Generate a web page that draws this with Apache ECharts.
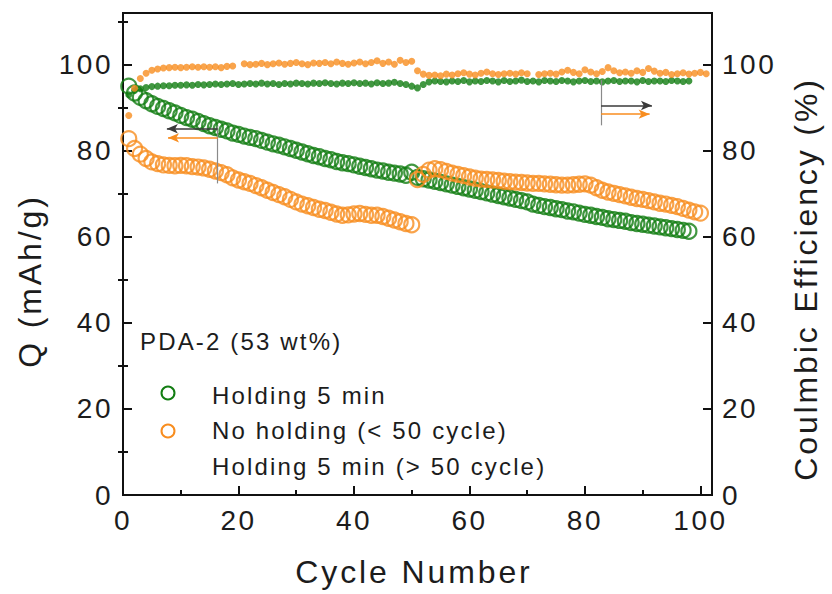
<!DOCTYPE html>
<html>
<head>
<meta charset="utf-8">
<script src="https://cdn.jsdelivr.net/npm/echarts@6/dist/echarts.min.js"></script>
<style>
  html, body { margin: 0; padding: 0; background: #fff; }
  #chart { width: 832px; height: 594px; }
  #chart text { letter-spacing: 0.09em; }
</style>
</head>
<body>
<div id="chart"></div>
<script>
// Capacity Q (mAh/g) per cycle, starting at cycle 1
const qHold = [
  95.0, 93.4, 92.4, 91.6, 90.9, 90.3, 89.8, 89.3, 88.8, 88.2,
  87.7, 87.3, 86.8, 86.3, 85.8, 85.4, 85.0, 84.6, 84.1, 83.8,
  83.4, 83.1, 82.8, 82.4, 82.0, 81.6, 81.3, 80.9, 80.5, 80.1,
  79.7, 79.3, 78.9, 78.6, 78.2, 77.9, 77.5, 77.2, 77.0, 76.7,
  76.4, 76.1, 75.8, 75.5, 75.3, 75.0, 74.8, 74.6, 74.3, 75.0,
  73.8, 73.5, 73.2, 72.9, 72.6, 72.3, 72.0, 71.7, 71.4, 71.1,
  70.8, 70.5, 70.2, 69.9, 69.6, 69.3, 69.0, 68.7, 68.4, 68.1,
  67.6, 67.3, 67.0, 66.8, 66.5, 66.3, 66.0, 65.8, 65.5, 65.2,
  65.0, 64.7, 64.5, 64.2, 64.0, 63.8, 63.6, 63.3, 63.1, 62.9,
  62.7, 62.5, 62.3, 62.1, 61.9, 61.7, 61.5, 61.3
];
const qNoHold = [
  82.8, 80.5, 79.2, 78.2, 77.4, 77.0, 76.7, 76.6, 76.5, 76.6,
  76.5, 76.3, 76.2, 76.0, 75.7, 75.3, 74.9, 74.4, 73.7, 73.2,
  72.8, 72.4, 71.9, 71.4, 70.8, 70.3, 69.8, 69.3, 68.7, 68.1,
  67.6, 67.2, 66.8, 66.4, 66.1, 65.7, 65.3, 65.0, 65.1, 65.3,
  65.4, 65.2, 65.0, 65.0, 64.7, 64.3, 63.9, 63.5, 63.1, 62.8,
  73.3, 74.5, 75.5, 75.8, 75.6, 75.2, 74.8, 74.5, 74.2, 73.9,
  73.6, 73.4, 73.3, 73.2, 73.1, 72.9, 72.8, 72.7, 72.6, 72.5,
  72.4, 72.4, 72.3, 72.2, 72.1, 72.0, 72.0, 72.1, 72.2, 72.3,
  72.0, 71.4, 70.8, 70.4, 70.1, 69.8, 69.5, 69.2, 68.9, 68.7,
  68.4, 68.1, 67.8, 67.6, 67.3, 67.0, 66.6, 66.2, 65.8, 65.5
];
// Coulombic efficiency (%) per cycle, starting at cycle 1
const ceHold = [
  93.0, 94.0, 94.4, 94.7, 94.9, 95.0, 95.1, 95.1, 95.2, 95.2,
  95.3, 95.2, 95.4, 95.3, 95.4, 95.5, 95.4, 95.5, 95.6, 95.4,
  95.5, 95.6, 95.5, 95.7, 95.5, 95.6, 95.4, 95.6, 95.5, 95.7,
  95.6, 95.5, 95.7, 95.6, 95.8, 95.6, 95.5, 95.7, 95.6, 95.8,
  95.6, 95.7, 95.5, 95.8, 95.6, 95.7, 95.9, 95.6, 95.4, 95.0,
  94.6, 95.4, 96.0, 96.2, 96.1, 96.0, 96.2, 96.1, 96.3, 96.0,
  96.2, 96.1, 96.3, 96.2, 96.0, 96.3, 96.1, 96.2, 96.4, 96.1,
  96.2, 96.0, 96.3, 96.2, 96.1, 96.3, 96.2, 96.0, 96.2, 96.3,
  96.1, 96.2, 96.0, 96.2, 96.3, 96.1, 96.2, 96.2, 96.0, 96.3,
  96.1, 96.2, 96.2, 96.1, 96.3, 96.2, 96.1, 96.2
];
const ceNoHold = [
  88.2, 94.5, 96.8, 98.0, 98.7, 99.0, 99.2, 99.3, 99.4, 99.3,
  99.4, 99.5, 99.4, 99.5, 99.4, 99.5, 99.3, 99.6, 99.7, null,
  100.2, 100.0, 100.1, 100.3, 100.0, 100.2, 100.4, 100.1, 100.3, 100.5,
  100.2, 100.0, 100.4, 100.3, 100.5, 100.2, 100.6, 100.3, 100.1, 100.4,
  100.6, 100.2, 100.5, 100.9, 100.3, 100.6, 100.1, 101.0, 100.5, 100.8,
  98.6, 97.8, 97.5, 97.6, 97.4, 97.8, 97.6, 97.9, 98.1, 97.8,
  97.6, 98.0, 98.3, 97.9, 97.7, 97.9, 98.0, 97.8, 98.1, 97.9,
  null, 97.7, 97.9, 98.0, 97.8, 98.3, 98.7, 98.2, 97.9, 98.8,
  98.3, 97.9, 98.4, 99.3, 98.6, 98.1, 98.3, 98.0, 98.6, 98.2,
  99.1, 98.5, 98.0, 98.2, 97.7, 97.9, 98.1, 97.8, 98.0, 98.2,
  97.9
];

// Axis ticks and labels
const majorTicks = [0, 20, 40, 60, 80, 100];
const minorTicksX = [10, 30, 50, 70, 90];
const minorTicksY = [10, 30, 50, 70, 90, 110];

const GREEN = '#127d12';
const ORANGE = '#f88d1f';
const INK = '#1c1c1c';
const FONT = '"Liberation Sans", Arial, sans-serif';

function toPairs(values) {
  const out = [];
  values.forEach((v, i) => { if (v !== null) out.push([i + 1, v]); });
  return out;
}

function majorAxis(pos, extra) {
  return Object.assign({
    type: 'value', position: pos, min: 0,
    axisLine: { show: true, onZero: false, lineStyle: { color: '#111', width: 2 } },
    axisTick: { show: true, inside: true, length: 9, customValues: majorTicks, lineStyle: { color: '#111', width: 2 } },
    axisLabel: { show: true, customValues: majorTicks, fontSize: 28, fontFamily: FONT, color: INK, margin: 10 },
    splitLine: { show: false }
  }, extra);
}
function minorAxis(pos, max, ticks) {
  return {
    type: 'value', position: pos, min: 0, max: max,
    axisLine: { show: false },
    axisTick: { show: true, inside: true, length: 5, customValues: ticks, lineStyle: { color: '#111', width: 2 } },
    axisLabel: { show: false },
    splitLine: { show: false }
  };
}

const chart = echarts.init(document.getElementById('chart'), null, { renderer: 'svg' });

const option = {
  animation: false,
  backgroundColor: '#fff',
  grid: { left: 123, right: 120, top: 13, bottom: 99, show: true, borderColor: '#111', borderWidth: 2, backgroundColor: 'transparent' },
  xAxis: [
    majorAxis('bottom', { max: 102, axisLabel: { show: true, customValues: majorTicks, fontSize: 28, fontFamily: FONT, color: INK, margin: 11 } }),
    minorAxis('bottom', 102, minorTicksX)
  ],
  yAxis: [
    majorAxis('left', { max: 112 }),
    majorAxis('right', { max: 112 }),
    minorAxis('left', 112, minorTicksY),
    minorAxis('right', 112, minorTicksY)
  ],
  series: [
    {
      name: 'Holding 5 min', type: 'scatter', xAxisIndex: 0, yAxisIndex: 0,
      data: toPairs(qHold), symbol: 'circle', symbolSize: 15,
      itemStyle: { color: 'rgba(0,0,0,0)', borderColor: GREEN, borderWidth: 2.2 },
      emphasis: { disabled: true },
      markLine: {
        silent: true, animation: false, label: { show: false }, emphasis: { disabled: true },
        symbolSize: [7, 11],
        data: [
          [{ coord: [16.4, 85.7], symbol: 'none', lineStyle: { color: '#8a8a8a', width: 1.2, type: 'solid' } }, { coord: [16.4, 72.4], symbol: 'none' }],
          [{ coord: [16.4, 85.1], symbol: 'none', lineStyle: { color: '#3a3a3a', width: 1.6, type: 'solid' } }, { coord: [7.6, 85.1], symbol: 'arrow' }],
          [{ coord: [16.4, 83.0], symbol: 'none', lineStyle: { color: ORANGE, width: 1.6, type: 'solid' } }, { coord: [7.8, 83.0], symbol: 'arrow' }]
        ]
      }
    },
    {
      name: 'No holding (< 50 cycle)', type: 'scatter', xAxisIndex: 0, yAxisIndex: 0,
      data: toPairs(qNoHold), symbol: 'circle', symbolSize: 15,
      itemStyle: { color: 'rgba(0,0,0,0)', borderColor: ORANGE, borderWidth: 2.2 },
      emphasis: { disabled: true }
    },
    {
      name: 'CE holding', type: 'scatter', xAxisIndex: 0, yAxisIndex: 1,
      data: toPairs(ceHold), symbol: 'circle', symbolSize: 7,
      itemStyle: { color: GREEN },
      emphasis: { disabled: true },
      markLine: {
        silent: true, animation: false, label: { show: false }, emphasis: { disabled: true },
        symbolSize: [7, 11],
        data: [
          [{ coord: [82.8, 96.4], symbol: 'none', lineStyle: { color: '#8a8a8a', width: 1.2, type: 'solid' } }, { coord: [82.8, 85.9], symbol: 'none' }],
          [{ coord: [82.8, 90.5], symbol: 'none', lineStyle: { color: '#3a3a3a', width: 1.6, type: 'solid' } }, { coord: [91.6, 90.5], symbol: 'arrow' }],
          [{ coord: [82.8, 88.5], symbol: 'none', lineStyle: { color: ORANGE, width: 1.6, type: 'solid' } }, { coord: [91.2, 88.5], symbol: 'arrow' }]
        ]
      }
    },
    {
      name: 'CE no holding', type: 'scatter', xAxisIndex: 0, yAxisIndex: 1,
      data: toPairs(ceNoHold), symbol: 'circle', symbolSize: 7,
      itemStyle: { color: ORANGE },
      emphasis: { disabled: true }
    }
  ],
  graphic: [
    { type: 'text', x: 30, y: 281, rotation: Math.PI / 2,
      style: { text: 'Q (mAh/g)', font: '32px ' + FONT, fill: INK, textAlign: 'center', textVerticalAlign: 'middle' } },
    { type: 'text', x: 806, y: 279, rotation: Math.PI / 2,
      style: { text: 'Coulmbic Efficiency (%)', font: '32px ' + FONT, fill: INK, textAlign: 'center', textVerticalAlign: 'middle' } },
    { type: 'text', x: 414, y: 572,
      style: { text: 'Cycle Number', font: '32px ' + FONT, fill: INK, textAlign: 'center', textVerticalAlign: 'middle' } },
    { type: 'text', x: 140, y: 341,
      style: { text: 'PDA-2 (53 wt%)', font: '24px ' + FONT, fill: INK, textAlign: 'left', textVerticalAlign: 'middle' } },
    { type: 'circle', shape: { cx: 168, cy: 393, r: 6.5 }, style: { fill: 'none', stroke: GREEN, lineWidth: 2 } },
    { type: 'text', x: 212, y: 395,
      style: { text: 'Holding 5 min', font: '24px ' + FONT, fill: INK, textAlign: 'left', textVerticalAlign: 'middle' } },
    { type: 'circle', shape: { cx: 168, cy: 431, r: 6.5 }, style: { fill: 'none', stroke: ORANGE, lineWidth: 2 } },
    { type: 'text', x: 212, y: 430,
      style: { text: 'No holding (< 50 cycle)', font: '24px ' + FONT, fill: INK, textAlign: 'left', textVerticalAlign: 'middle' } },
    { type: 'text', x: 212, y: 466,
      style: { text: 'Holding 5 min (> 50 cycle)', font: '24px ' + FONT, fill: INK, textAlign: 'left', textVerticalAlign: 'middle' } }
  ]
};

chart.setOption(option);
</script>
</body>
</html>
